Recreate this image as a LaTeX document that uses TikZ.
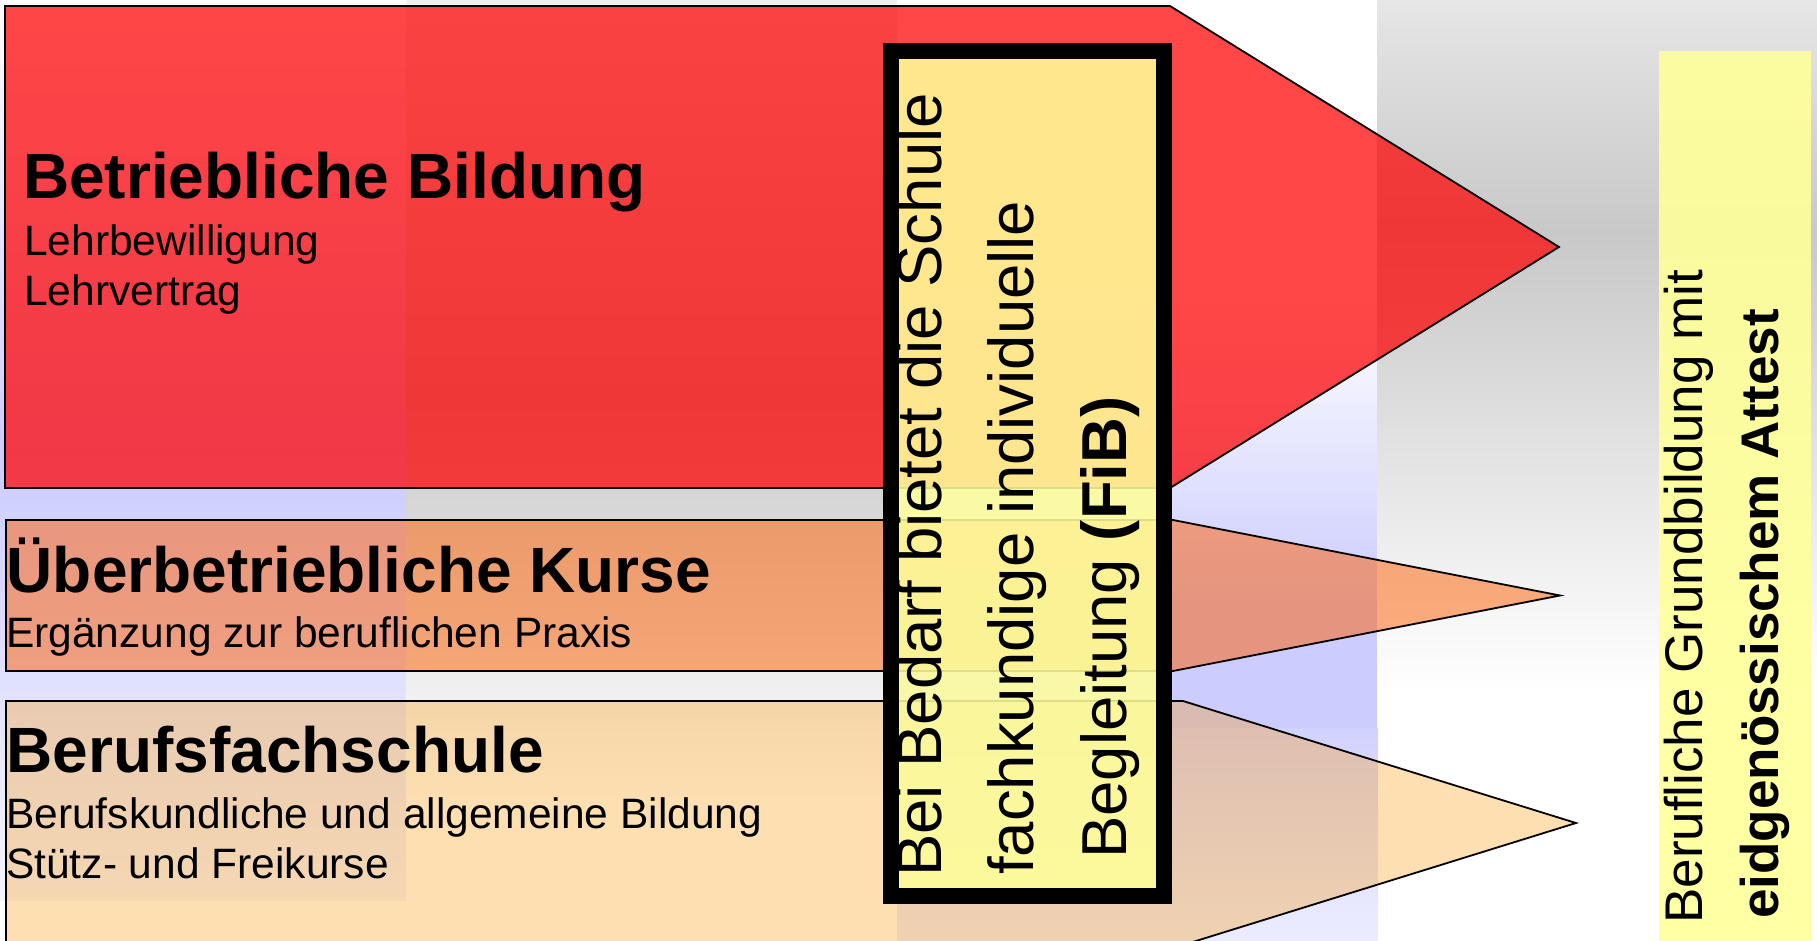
\documentclass[tikz,border=0pt]{standalone}
\usepackage{fontspec}
\setmainfont{Liberation Sans}
\definecolor{redF}{RGB}{255,0,0}
\definecolor{orangeF}{RGB}{255,94,0}
\definecolor{peachF}{RGB}{250,150,0}
\definecolor{yel}{RGB}{255,255,153}
\definecolor{lav}{RGB}{204,204,255}
\definecolor{lavL}{RGB}{244,244,255}
\definecolor{lavD1}{RGB}{210,210,255}
\definecolor{lavD2}{RGB}{236,236,255}
\definecolor{grayT}{RGB}{240,240,240}
\definecolor{grayE}{RGB}{230,230,230}
\definecolor{grayM}{RGB}{200,200,200}
\tikzset{
  arrowshape/.style={draw=black, line width=1.8pt, line join=miter},
  titletext/.style={anchor=base west, inner sep=0pt, font=\fontsize{64}{64}\selectfont\bfseries},
  subtext/.style={anchor=base west, inner sep=0pt, font=\fontsize{42.5}{42.5}\selectfont},
  vtext/.style={anchor=base west, inner sep=0pt, rotate=90, font=\fontsize{63.5}{63.5}\selectfont},
  atttext/.style={anchor=base west, inner sep=0pt, rotate=90, font=\fontsize{53}{53}\selectfont},
  atttextb/.style={atttext, font=\fontsize{53}{53}\selectfont\bfseries},
}
\begin{document}
\begin{tikzpicture}[x=1pt,y=-1pt]
\useasboundingbox (0,0) rectangle (1817,940);
\clip (0,0) rectangle (1817,940);
% background panels
\shade[top color=white, bottom color=lav] (0,0) rectangle (406,451);
\shade[top color=lav, bottom color=lavL] (0,450) rectangle (406,900);
\shade[top color=grayT, bottom color=grayM] (406,0) rectangle (897,401);
\shade[top color=grayM, bottom color=white] (406,400) rectangle (897,800);
\shade[top color=white, bottom color=lav] (897,300) rectangle (1377,600);
\fill[lav] (897,599) rectangle (1377,729);
\shade[top color=lavD1, bottom color=lavD2] (897,728) rectangle (1378,940);
\shade[top color=grayE, bottom color=grayM] (1377,0) rectangle (1817,231);
\shade[top color=grayM, bottom color=white] (1377,230) rectangle (1817,690);
% arrows
\filldraw[arrowshape, fill=redF, fill opacity=.72] (5,6) -- (1170,6) -- (1559,247) -- (1170,488) -- (5,488) -- cycle;
\filldraw[arrowshape, fill=orangeF, fill opacity=.5] (6,520) -- (1173,520) -- (1560,595.5) -- (1173,671) -- (6,671) -- cycle;
\filldraw[arrowshape, fill=peachF, fill opacity=.3] (6,701) -- (1183,701) -- (1576,823) -- (1183,945) -- (6,945) -- cycle;
% texts in arrows
\node[titletext] (bb) at (23,198) {Betriebliche Bildung};
\node[subtext] (lb) at (24,255) {Lehrbewilligung};
\node[subtext] (lv) at (24,305) {Lehrvertrag};
\node[titletext] (uk) at (6.5,592) {Überbetriebliche Kurse};
\node[subtext] (ez) at (6,647) {Ergänzung zur beruflichen Praxis};
\node[titletext] (bf) at (6.5,772) {Berufsfachschule};
\node[subtext] (bk) at (6,828) {Berufskundliche und allgemeine Bildung};
\node[subtext] (sf) at (6,878) {Stütz- und Freikurse};
% FiB box
\fill[yel, fill opacity=.87] (891,50.5) rectangle (1164,896);
\draw[line width=16pt] (891,50.5) rectangle (1164,896);
\node[vtext] (f1) at (941,877) {Bei Bedarf bietet die Schule};
\node[vtext] (f2) at (1033,875) {fachkundige individuelle};
\node[vtext] (f3) at (1126,859) {Begleitung \textbf{(FiB)}};
% Attest box
\fill[yel, fill opacity=.9] (1659,51) rectangle (1811,945);
\node[atttext] (a1) at (1702,924) {Berufliche Grundbildung mit};
\node[atttextb] (a2) at (1778,919) {eidgenössischem Attest};
\end{tikzpicture}
\end{document}
